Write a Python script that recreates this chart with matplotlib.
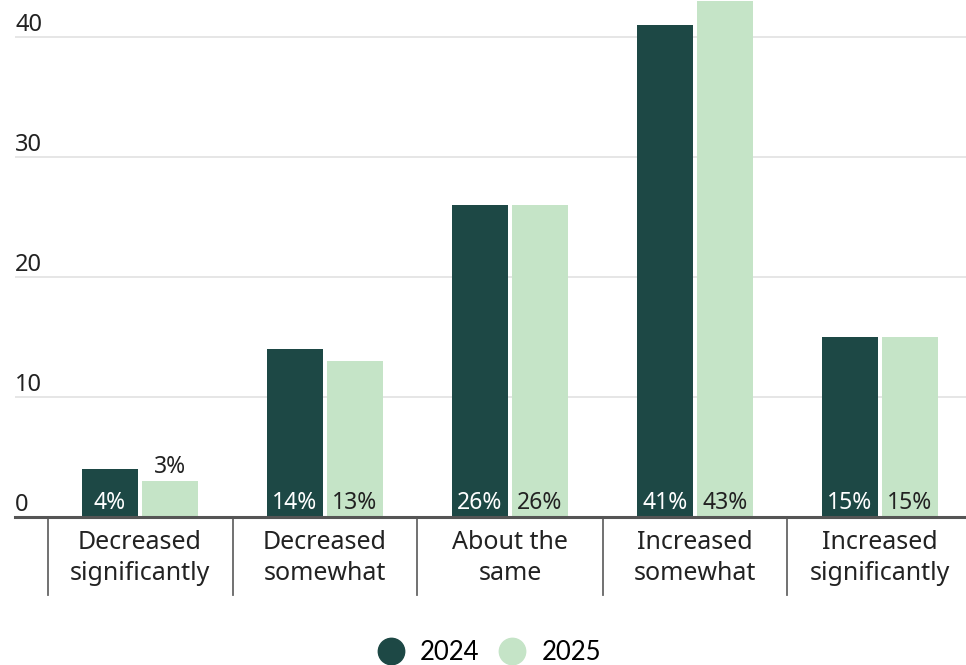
import matplotlib.pyplot as plt
import numpy as np

categories = ["Decreased\nsignificantly", "Decreased\nsomewhat", "About the\nsame",
              "Increased\nsomewhat", "Increased\nsignificantly"]
years = ["2024", "2025"]
values_2024 = [4, 14, 26, 41, 15]
values_2025 = [3, 13, 26, 43, 15]
yticks = [0, 10, 20, 30, 40]

dark = "#1d4845"
light = "#c5e4c7"
font = "Noto Sans"

plt.rcParams['font.family'] = [font, 'DejaVu Sans']

fig = plt.figure(figsize=(9.66, 6.65), dpi=100)
ax = fig.add_axes([15 / 966, 1 - 517 / 665, 951 / 966, 517 / 665])

x = np.arange(len(categories))
w = 0.30
off = 0.162
ax.bar(x - off, values_2024, w, color=dark, zorder=3)
ax.bar(x + off, values_2025, w, color=light, zorder=3)

ax.set_xlim(-125 / 185, -125 / 185 + 951 / 185)
ax.set_ylim(0, 517 / 12)

# gridlines with the labels sitting above them
for t in yticks:
    if t > 0:
        ax.axhline(t, color="#e4e4e4", lw=1.3, zorder=1)
    ax.text(0, t, str(t), transform=ax.get_yaxis_transform(), ha="left",
            va="bottom", fontsize=17, color="#222222")

ax.axhline(0, color="#555555", lw=2.2, zorder=4, clip_on=False)

# value labels at the bottom of each bar (above the bar when it is too short)
for xi, v in zip(x, values_2024):
    ax.annotate(f"{v}%", (xi - off, 0), xytext=(0, 6), textcoords="offset points",
                ha="center", va="baseline", fontsize=16.5, color="white", zorder=5)
for xi, v in zip(x, values_2025):
    base = v if v < 4 else 0
    ax.annotate(f"{v}%", (xi + off, base), xytext=(0, 6), textcoords="offset points",
                ha="center", va="baseline", fontsize=16.5, color="#222222", zorder=5)

# category separators below the baseline
for b in np.arange(len(categories)) - 0.5:
    ax.plot([b, b], [0, -0.151], transform=ax.get_xaxis_transform(),
            color="#666666", lw=1.3, clip_on=False)

for xi, c in zip(x, categories):
    ax.text(xi, -0.025, c, transform=ax.get_xaxis_transform(), ha="center",
            va="top", fontsize=18, color="#222222", linespacing=1.3)

ax.set_xticks([])
ax.set_yticks([])
for s in ax.spines.values():
    s.set_visible(False)

handles = [plt.Line2D([], [], marker="o", ls="", ms=19, color=c) for c in (dark, light)]
fig.legend(handles, years, loc="center", bbox_to_anchor=(0.5, 1 - 652 / 665),
           ncol=2, frameon=False, handletextpad=0.15, columnspacing=0.25,
           prop={"family": "Lato", "size": 18.5})

fig.savefig("out.png", dpi=100)
